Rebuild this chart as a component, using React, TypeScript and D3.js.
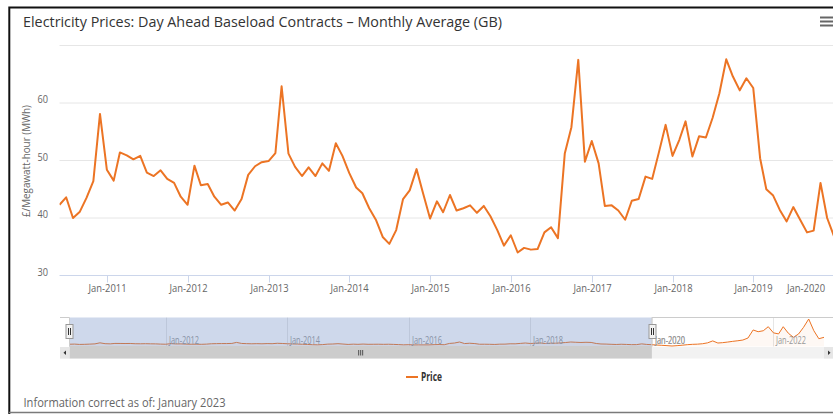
import * as d3 from "d3";

// Monthly average day-ahead baseload price (GB), £/MWh, first value = June 2010
const startYear = 2010;
const startMonth = 5;
const prices2010 = [42.3, 43.6, 40.0, 41.1, 43.5, 46.4, 58.1];
const prices2011 = [48.4, 46.5, 51.4, 50.9, 50.2, 50.8, 47.9, 47.3, 48.3, 46.8, 46.1, 43.7];
const prices2012 = [42.3, 49.1, 45.7, 45.9, 43.7, 42.3, 42.7, 41.3, 43.3, 47.5, 49.0, 49.7];
const prices2013 = [49.9, 51.3, 62.9, 51.2, 48.9, 47.3, 48.8, 47.3, 49.5, 48.2, 53.0, 50.8];
const prices2014 = [47.8, 45.3, 44.3, 41.7, 39.7, 36.7, 35.5, 37.9, 43.3, 44.8, 48.5, 44.2];
const prices2015 = [39.9, 42.9, 41.0, 44.0, 41.3, 41.7, 42.2, 40.9, 42.1, 40.3, 37.9, 35.2];
const prices2016 = [37.0, 34.0, 34.8, 34.5, 34.6, 37.5, 38.4, 36.5, 51.2, 55.8, 67.5, 49.8];
const prices2017 = [53.4, 49.5, 42.1, 42.2, 41.3, 39.7, 43.0, 43.3, 47.2, 46.8, 51.5, 56.2];
const prices2018 = [50.8, 53.6, 56.8, 50.7, 54.2, 54.0, 57.4, 61.7, 67.6, 64.6, 62.2, 64.3];
const prices2019 = [62.6, 50.4, 45.0, 43.9, 41.4, 39.4, 41.9, 39.7, 37.5, 37.8, 46.1, 40.0];
const prices2020 = [36.8, 33, 30, 26, 22, 26, 31, 37, 41, 43, 48, 58];
const prices2021 = [80, 56, 60, 67, 75, 82, 90, 113, 205, 185, 196, 242];
const prices2022 = [172, 160, 242, 167, 121, 159, 235, 330, 196, 105, 121];

const yTicks = [30, 40, 50, 60, 70];
const yLabels = [30, 40, 50, 60];
const title = "Electricity Prices: Day Ahead Baseload Contracts – Monthly Average (GB)";
const yTitle = "£/Megawatt-hour (MWh)";
const seriesName = "Price";
const footnote = "Information correct as of: January 2023";

const orange = "#ec7424";

const allPrices = [
  ...prices2010, ...prices2011, ...prices2012, ...prices2013, ...prices2014,
  ...prices2015, ...prices2016, ...prices2017, ...prices2018, ...prices2019,
  ...prices2020, ...prices2021, ...prices2022,
];
const data = allPrices.map((price, i) => ({
  date: new Date(startYear, startMonth + i, 1),
  price,
}));

const fmt = d3.timeFormat("%b-%Y");
const font = "'Open Sans', 'DejaVu Sans', sans-serif";

export default function App() {
  const width = 833;
  const height = 414;

  // main plot
  const left = 59.5;
  const right = 834;
  const top = 45.5;
  const bottom = 275.5;
  const viewEnd = new Date(2020, 0, 1);

  const x = d3.scaleTime().domain([data[0].date, viewEnd]).range([left, right]);
  const y = d3.scaleLinear().domain([30, 70]).range([bottom, top]);

  const line = d3
    .line<{ date: Date; price: number }>()
    .x((d) => x(d.date))
    .y((d) => y(d.price));

  // navigator
  const navLeft = 69.5;
  const navRight = 824;
  const navTop = 317.5;
  const navBottom = 346.5;
  const nx = d3
    .scaleTime()
    .domain([data[0].date, data[data.length - 1].date])
    .range([navLeft, navRight]);
  const ny = d3
    .scaleLinear()
    .domain(d3.extent(allPrices) as [number, number])
    .range([346, 319]);
  const navLine = d3
    .line<{ date: Date; price: number }>()
    .x((d) => nx(d.date))
    .y((d) => ny(d.price));
  const navArea = d3
    .area<{ date: Date; price: number }>()
    .x((d) => nx(d.date))
    .y0(navBottom)
    .y1((d) => ny(d.price));
  const selEnd = nx(viewEnd);

  const xTicks = d3.timeYear.range(new Date(2011, 0, 1), new Date(2020, 0, 2));
  const navTicks = d3.timeYear.every(2)!.range(new Date(2012, 0, 1), new Date(2022, 0, 2));

  const sbTop = 347;
  const sbH = 11.5;

  const handle = (hx: number) => (
    <g key={hx}>
      <rect x={hx - 3.5} y={324.5} width={7} height={14} fill="#f2f2f2" stroke="#999" strokeWidth={1} />
      <line x1={hx - 1} x2={hx - 1} y1={328} y2={335} stroke="#333" />
      <line x1={hx + 1} x2={hx + 1} y1={328} y2={335} stroke="#333" />
    </g>
  );

  return (
    <div style={{ position: "fixed", left: 0, top: 0, width, height, overflow: "hidden", background: "#fff" }}>
      <svg width={width} height={height} style={{ display: "block", fontFamily: font }}>
        <defs>
          <clipPath id="plotClip">
            <rect x={left} y={0} width={right - left} height={bottom + 2} />
          </clipPath>
        </defs>

        {/* outer frame */}
        <path d="M9.3,414 L9.3,7.5 L840,7.5" fill="none" stroke="#111" strokeWidth={2} />
        <line x1={9} x2={840} y1={412.5} y2={412.5} stroke="#7a7a7a" strokeWidth={1.5} />

        {/* title */}
        <text x={23} y={27} fontSize={15} fill="#333" textLength={479} lengthAdjust="spacingAndGlyphs">
          {title}
        </text>

        {/* menu icon */}
        {[17.5, 21.5, 25.5].map((my) => (
          <line key={my} x1={820} x2={834} y1={my} y2={my} stroke="#666" strokeWidth={2} />
        ))}

        {/* grid */}
        {yTicks.slice(1).map((t) => (
          <line key={t} x1={left} x2={right} y1={y(t)} y2={y(t)} stroke="#e6e6e6" strokeWidth={1} />
        ))}
        {yLabels.map((t) => (
          <text key={t} x={48} y={y(t)} fontSize={11} fill="#666" textAnchor="end" textLength={10.5} lengthAdjust="spacingAndGlyphs">
            {t}
          </text>
        ))}
        <text
          transform={`translate(30,161) rotate(-90)`}
          fontSize={11}
          fill="#666"
          textAnchor="middle"
          textLength={112}
          lengthAdjust="spacingAndGlyphs"
        >
          {yTitle}
        </text>

        {/* x axis */}
        <line x1={left} x2={right} y1={bottom} y2={bottom} stroke="#ccd6eb" strokeWidth={1} />
        {xTicks.map((d) => {
          const tx = Math.round(x(d)) + 0.5;
          const last = d.getFullYear() === 2020;
          return (
            <g key={+d}>
              <line x1={tx} x2={tx} y1={bottom} y2={bottom + 7} stroke="#ccd6eb" />
              <text
                x={last ? 806 : tx}
                y={291.5}
                fontSize={11}
                fill="#666"
                textAnchor="middle"
                textLength={38}
                lengthAdjust="spacingAndGlyphs"
              >
                {fmt(d)}
              </text>
            </g>
          );
        })}

        {/* series */}
        <path
          d={line(data) ?? ""}
          fill="none"
          stroke={orange}
          strokeWidth={2}
          strokeLinejoin="round"
          clipPath="url(#plotClip)"
        />

        {/* navigator */}
        {navTicks.map((d) => {
          const tx = Math.round(nx(d)) + 0.5;
          return (
            <g key={+d}>
              <line x1={tx} x2={tx} y1={navTop} y2={navBottom} stroke="#e6e6e6" />
            </g>
          );
        })}
        <path d={navArea(data) ?? ""} fill={orange} fillOpacity={0.05} stroke="none" />
        <path d={navLine(data) ?? ""} fill="none" stroke={orange} strokeWidth={1} />
        {[...navTicks, new Date(2020, 0, 1)].map((d) => (
          <text
            key={+d}
            x={Math.round(nx(d)) + 3}
            y={343.5}
            fontSize={11}
            fill="#999"
            textLength={30}
            lengthAdjust="spacingAndGlyphs"
          >
            {fmt(d)}
          </text>
        ))}
        <rect x={navLeft} y={navTop} width={selEnd - navLeft} height={navBottom - navTop} fill="rgba(102,133,194,0.32)" />
        <path
          d={`M60,${navTop} L${navLeft},${navTop} L${navLeft},${navBottom} L${selEnd},${navBottom} L${selEnd},${navTop} L${right},${navTop}`}
          fill="none"
          stroke="#cccccc"
          strokeWidth={1}
        />

        {/* scrollbar */}
        <rect x={60} y={sbTop} width={right - 60} height={sbH} fill="#f2f2f2" />
        <rect x={navLeft} y={sbTop} width={selEnd - navLeft} height={sbH} fill="#cccccc" />
        {[0, 1, 2].map((i) => (
          <line
            key={i}
            x1={(navLeft + selEnd) / 2 - 2 + i * 2}
            x2={(navLeft + selEnd) / 2 - 2 + i * 2}
            y1={sbTop + 3}
            y2={sbTop + sbH - 3}
            stroke="#333"
            strokeWidth={0.8}
          />
        ))}
        <rect x={60} y={sbTop} width={navLeft - 60} height={sbH} fill="#e6e6e6" />
        <path d={`M63.5,${sbTop + sbH / 2} L66,${sbTop + 3.5} L66,${sbTop + sbH - 3.5} Z`} fill="#333" />
        <rect x={navRight} y={sbTop} width={right - navRight} height={sbH} fill="#e6e6e6" />
        <path
          d={`M${navRight + 6.5},${sbTop + sbH / 2} L${navRight + 4},${sbTop + 3.5} L${navRight + 4},${sbTop + sbH - 3.5} Z`}
          fill="#333"
        />

        {handle(navLeft)}
        {handle(Math.round(selEnd) + 0.5)}

        {/* legend */}
        <line x1={406} x2={418} y1={377} y2={377} stroke={orange} strokeWidth={2} />
        <text x={421} y={381} fontSize={11.5} fontWeight="bold" fill="#333" textLength={21} lengthAdjust="spacingAndGlyphs">
          {seriesName}
        </text>

        {/* footnote */}
        <text x={23.5} y={407} fontSize={12.5} fill="#666" textLength={202} lengthAdjust="spacingAndGlyphs">
          {footnote}
        </text>
      </svg>
    </div>
  );
}
